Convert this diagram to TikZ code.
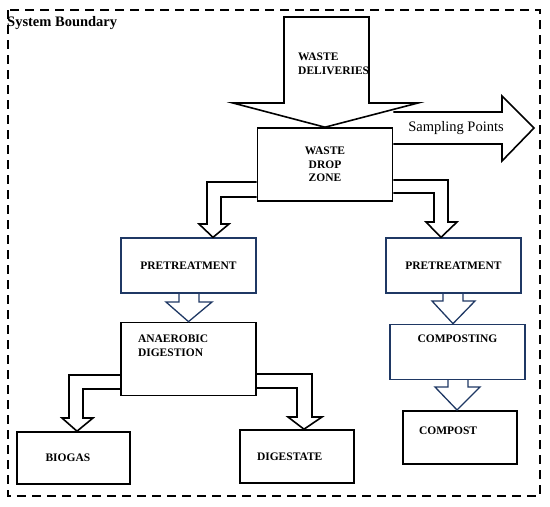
\documentclass[tikz,border=0pt]{standalone}
\usepackage{fontspec}
\setmainfont{Liberation Serif}
\usepackage{tikz}
\usetikzlibrary{positioning,calc}
\definecolor{boxblue}{RGB}{31,56,100}

\begin{document}
\begin{tikzpicture}[
    x=1pt, y=-1pt,
    node distance=28pt,
    box/.style={rectangle, draw, line width=1.6pt, minimum width=135pt,
                minimum height=55pt, inner sep=0pt,
                font=\fontsize{11.5}{13.5}\selectfont\bfseries},
    bluebox/.style={box, draw=boxblue, line width=1.3pt},
    fat/.style={draw, line width=1.6pt, line join=miter},
    bluefat/.style={fat, draw=boxblue, line width=1.3pt}
]
\useasboundingbox (0,0) rectangle (550,507);
\draw[line width=1.8pt, dash pattern=on 9pt off 6pt] (8,10) rectangle (540,496);
\node[anchor=west, inner sep=0pt, font=\fontsize{14.5}{16}\selectfont\bfseries] (sysb) at (7,23) {System Boundary};

% boxes
\node[box, minimum height=73pt, align=center] (drop) at (325,164.5) {WASTE\\DROP\\ZONE};
\node[bluebox] (pretL) at (188.5,265.5) {PRETREATMENT};
\node[bluebox] (pretR) at (453.5,265.5) {PRETREATMENT};
\node[box, minimum height=73pt, below=of pretL, text width=101pt, align=left] (anaer) {ANAEROBIC\\DIGESTION\\~\\~};
\node[bluebox, below=30pt of pretR, xshift=4pt, align=center] (compo) {COMPOSTING\\~\\~};
\node[box, minimum width=114pt, minimum height=53pt, below=30pt of compo, xshift=2.5pt,
      text width=82pt, align=left] (compost) {COMPOST\\~};
\node[box, minimum width=113pt, minimum height=52pt, text width=56pt, align=left] (biogas) at (73.5,458) {BIOGAS};
\node[box, minimum width=114pt, minimum height=53pt, text width=80pt, align=left] (dig) at (297,456.5) {DIGESTATE};

% block arrows
\draw[fat] (284,17) -- (369,17) -- (369,103) -- (418,103) -- (drop.north)
    -- (233,103) -- (284,103) -- cycle;
\node[anchor=west, inner sep=0pt, align=left, font=\fontsize{11.5}{14}\selectfont\bfseries] (deliv) at (298,64) {WASTE\\DELIVERIES};

\coordinate (sptip) at (534,128);
\draw[fat] (drop.east |- 0,112) -- (502,112) -- (502,96) -- (sptip) -- (502,161)
    -- (502,144) -- (drop.east |- 0,144);
\node[inner sep=0pt, font=\fontsize{14.5}{16}\selectfont] (samp) at (456,128) {Sampling Points};

\draw[fat] (drop.west |- 0,182) -- (207,182) -- (207,224) -- (199,224) -- (pretL.north -| 213,0)
    -- (229,224) -- (221,224) -- (221,197) -- (drop.west |- 0,197);
\draw[fat] (drop.east |- 0,180) -- (448,180) -- (448,222) -- (457,222) -- (pretR.north -| 441,0)
    -- (426,222) -- (434,222) -- (434,193) -- (drop.east |- 0,193);

\draw[bluefat] (pretL.south -| 179,0) -- (179,302) -- (166,302) -- (anaer.north)
    -- (212,302) -- (199,302) -- (pretL.south -| 199,0);
\draw[bluefat] (pretR.south -| 443,0) -- (443,301) -- (432,301) -- (compo.north -| 453,0)
    -- (475,301) -- (463,301) -- (pretR.south -| 463,0);
\draw[bluefat] (compo.south -| 448,0) -- (448,387) -- (435,387) -- (compost.north -| 457,0)
    -- (480,387) -- (468,387) -- (compo.south -| 468,0);

\draw[fat] (anaer.west |- 0,375) -- (69,375) -- (69,418) -- (62,418) -- (biogas.north -| 77,0)
    -- (93,418) -- (83,418) -- (83,389) -- (anaer.west |- 0,389);
\draw[fat] (anaer.east |- 0,374) -- (312,374) -- (312,417) -- (322,417) -- (dig.north -| 304,0)
    -- (288,417) -- (297,417) -- (297,388) -- (anaer.east |- 0,388);
\end{tikzpicture}
\end{document}
